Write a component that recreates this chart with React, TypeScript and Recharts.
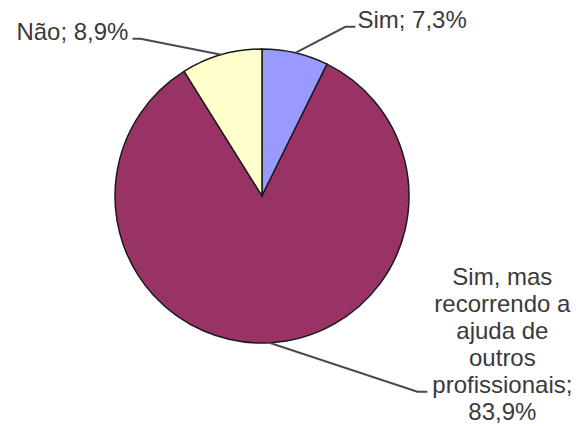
import { PieChart, Pie, Cell, type PieLabelRenderProps } from 'recharts'

const CATEGORIES = ['Sim', 'Sim, mas recorrendo a ajuda de outros profissionais', 'Não']
const VALUES = [7.3, 83.9, 8.9]
const COLORS = ['#9999FF', '#993366', '#FFFFCC']

const data = CATEGORIES.map((name, i) => ({ name, value: VALUES[i] }))

// leader line layout per slice: elbow offset from arc point, tail length, text placement
const LAYOUT = [
  { dx: 50, dy: -26, tail: 10, anchor: 'start' as const, gap: 2, wrap: 0 },
  { dx: 148, dy: 49, tail: 10, anchor: 'middle' as const, gap: 75, wrap: 12 },
  { dx: -81, dy: -16, tail: -8, anchor: 'end' as const, gap: -4, wrap: 0 },
]

const RADIAN = Math.PI / 180
const FONT = "'Liberation Sans', Arial, sans-serif"
const LINE_H = 27

function wrapWords(text: string, max: number) {
  const words = text.split(' ')
  const lines: string[] = []
  let cur = ''
  for (const w of words) {
    if (!cur) cur = w
    else if ((cur + ' ' + w).length <= max) cur += ' ' + w
    else {
      lines.push(cur)
      cur = w
    }
  }
  if (cur) lines.push(cur)
  return lines
}

function renderLabel(props: PieLabelRenderProps) {
  const cx = Number(props.cx ?? 0)
  const cy = Number(props.cy ?? 0)
  const midAngle = Number(props.midAngle ?? 0)
  const outerRadius = Number(props.outerRadius ?? 0)
  const index = Number(props.index ?? 0)
  const value = Number(props.value ?? 0)
  const name = String(props.name ?? '')
  const lay = LAYOUT[index]

  const x0 = cx + outerRadius * Math.cos(-midAngle * RADIAN)
  const y0 = cy + outerRadius * Math.sin(-midAngle * RADIAN)
  const x1 = x0 + lay.dx
  const y1 = y0 + lay.dy
  const x2 = x1 + lay.tail
  const tx = x2 + lay.gap

  const full = `${name}; ${value.toFixed(1).replace('.', ',')}%`
  const lines = lay.wrap ? wrapWords(full, lay.wrap) : [full]
  // the line with the leader sits at the second-to-last row for wrapped labels
  const anchorRow = lines.length > 1 ? lines.length - 2 : 0
  const firstY = y1 + 1 - anchorRow * LINE_H

  return (
    <g key={`lbl-${index}`}>
      <polyline
        points={`${x0},${y0} ${x1},${y1} ${x2},${y1}`}
        fill="none"
        stroke="#4a4a4a"
        strokeWidth={2}
      />
      <text
        x={tx}
        y={firstY}
        textAnchor={lay.anchor}
        fill="#3a3a3a"
        fontSize={24}
        fontFamily={FONT}
      >
        {lines.map((l, i) => (
          <tspan key={i} x={tx} dy={i === 0 ? 0 : LINE_H}>
            {l}
          </tspan>
        ))}
      </text>
    </g>
  )
}

export default function App() {
  return (
    <div style={{ position: 'absolute', left: 0, top: 0, width: 580, height: 426, background: '#fff' }}>
      <PieChart width={580} height={426} margin={{ top: 0, right: 0, bottom: 0, left: 0 }}>
        <Pie
          data={data}
          dataKey="value"
          nameKey="name"
          cx={262}
          cy={196}
          outerRadius={147}
          startAngle={90}
          endAngle={-270}
          stroke="#1a1a1a"
          strokeWidth={1.5}
          label={renderLabel}
          labelLine={false}
          isAnimationActive={false}
        >
          {data.map((_, i) => (
            <Cell key={i} fill={COLORS[i]} />
          ))}
        </Pie>
      </PieChart>
    </div>
  )
}
